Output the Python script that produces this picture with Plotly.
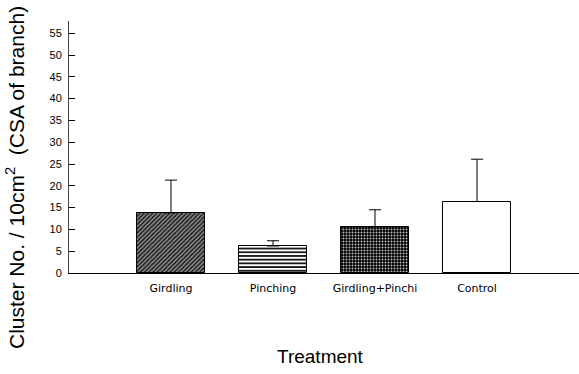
import plotly.graph_objects as go

# Treatment means and upper standard errors
treatments = ["Girdling", "Pinching", "Girdling+Pinchi", "Control"]
means = [13.8, 6.2, 10.6, 16.4]
errors_up = [7.5, 1.2, 3.9, 9.7]
y_ticks = [0, 5, 10, 15, 20, 25, 30, 35, 40, 45, 50, 55]

patterns = [
    dict(shape="/", size=3, solidity=0.45, fgcolor="#111111", bgcolor="#8c8c8c", fillmode="replace"),
    dict(shape="-", size=3.7, solidity=0.45, fgcolor="#000000", bgcolor="#ffffff", fillmode="replace"),
    dict(shape=".", size=3, solidity=0.35, fgcolor="#bbbbbb", bgcolor="#000000", fillmode="replace"),
    dict(shape="", fgcolor="#ffffff", bgcolor="#ffffff"),
]

fig = go.Figure()
for i, name in enumerate(treatments):
    fig.add_trace(go.Bar(
        x=[i], y=[means[i]],
        width=0.67,
        marker=dict(color="#ffffff", line=dict(color="#000000", width=1), pattern=patterns[i]),
        error_y=dict(type="data", array=[errors_up[i]], symmetric=False, arrayminus=[0],
                     color="#000000", thickness=1, width=6),
        showlegend=False,
    ))

fig.update_layout(
    width=579, height=374,
    margin=dict(l=69, r=0, t=21, b=101),
    plot_bgcolor="#ffffff", paper_bgcolor="#ffffff",
    font=dict(family="Liberation Sans, Arial, sans-serif", color="#000000"),
    bargap=0,
    xaxis=dict(
        range=[-1, 4], tickmode="array", tickvals=list(range(len(treatments))),
        ticktext=treatments, ticks="", showgrid=False, zeroline=False,
        showline=True, linecolor="#000000", linewidth=1,
        tickfont=dict(size=11, family="DejaVu Sans, sans-serif"), ticklabelstandoff=5,
    ),
    yaxis=dict(
        range=[0, 57.8], tickmode="array", tickvals=y_ticks,
        ticks="inside", ticklen=6, tickcolor="#000000", tickwidth=1,
        showgrid=False, zeroline=False, showline=True, linecolor="#444444", linewidth=1,
        tickfont=dict(size=11), ticklabelstandoff=4,
    ),
    annotations=[
        dict(text="Treatment", showarrow=False, font=dict(size=19),
             xanchor="center", yanchor="middle"),
        dict(text="Cluster No. / 10cm<sup>2</sup>  (CSA of branch)",
             textangle=-90, showarrow=False, font=dict(size=21),
             xanchor="center", yanchor="middle"),
    ],
)

# place the axis titles in pixel space of the page
h_plot = 374 - 21 - 101
w_plot = 579 - 69
fig.layout.annotations[0].update(xref="paper", yref="paper",
                                 x=(320 - 69) / w_plot, y=(273 - 356) / h_plot)
fig.layout.annotations[1].update(xref="paper", yref="paper",
                                 x=(15 - 69) / w_plot, y=(273 - 178) / h_plot)

fig.write_html("out.html")
